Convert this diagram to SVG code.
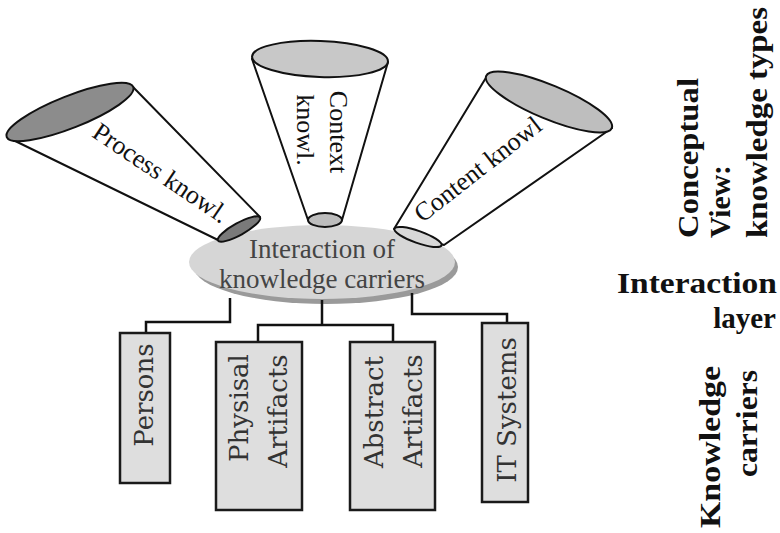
<svg xmlns="http://www.w3.org/2000/svg" width="780" height="533" viewBox="0 0 780 533">
<style>
.body{fill:#fff;stroke:#111;stroke-width:2;stroke-linejoin:round}
.cap{stroke:#111;stroke-width:2}
.ct{font-family:"Liberation Serif",serif;font-size:26px;fill:#111}
.it{font-family:"Liberation Serif",serif;font-size:27px;fill:#444;text-anchor:middle}
.box{fill:#dedede;stroke:#1a1a1a;stroke-width:2.5}
.bt{font-family:"DejaVu Serif",serif;font-size:26px;fill:#333;text-anchor:middle}
.lab{font-family:"Liberation Serif",serif;font-size:29px;font-weight:bold;fill:#111}
.conn{fill:none;stroke:#111;stroke-width:2.5}
</style>
<rect width="780" height="533" fill="#fff"/>
<g id="interaction">
<ellipse cx="326" cy="267" rx="132" ry="37" fill="#9a9a9a"/>
<ellipse cx="322" cy="262" rx="133" ry="37" fill="#d6d6d6"/>
<text class="it" x="322" y="258">Interaction of</text>
<text class="it" x="322" y="288">knowledge carriers</text>
</g>
<g id="cone-process">
<polygon class="body" points="7,137 133,87 260,217 218,240"/>
<ellipse class="cap" cx="70" cy="112" rx="68" ry="16" fill="#8c8c8c" transform="rotate(-21.6 70 112)"/>
<ellipse class="cap" cx="239" cy="229" rx="24" ry="6" fill="#7a7a7a" transform="rotate(-28.7 239 229)"/>
<text class="ct" x="156" y="180" text-anchor="middle" transform="rotate(34 156 180)">Process knowl.</text>
</g>
<g id="cone-context">
<polygon class="body" points="252,59 388,62 342,220 308,220"/>
<ellipse class="cap" cx="320" cy="59" rx="68" ry="18" fill="#c8c8c8" transform="rotate(2 320 59)"/>
<ellipse class="cap" cx="325" cy="220" rx="17" ry="7" fill="#bdbdbd"/>
<text class="ct" x="330" y="132" text-anchor="middle" transform="rotate(90 330 132)">Context</text>
<text class="ct" x="297" y="130" text-anchor="middle" transform="rotate(90 297 130)">knowl.</text>
</g>
<g id="cone-content">
<polygon class="body" points="487,76 612,128 444,245 394,229"/>
<ellipse class="cap" cx="549" cy="102" rx="68" ry="17" fill="#bebebe" transform="rotate(22.6 549 102)"/>
<ellipse class="cap" cx="418" cy="237" rx="25" ry="6" fill="#d8d8d8" transform="rotate(19.5 418 237)"/>
<text class="ct" x="483" y="176" text-anchor="middle" transform="rotate(-38 483 176)">Content knowl</text>
</g>
<g id="connectors">
<path class="conn" d="M230,298 V322 H146 V333"/>
<path class="conn" d="M322,300 V325"/>
<path class="conn" d="M258,342 V325 H393 V342"/>
<path class="conn" d="M412,293 V314 H507 V323"/>
</g>
<g id="persons">
<rect class="box" x="120" y="333" width="50" height="150"/>
<text class="bt" x="153" y="395" transform="rotate(-90 153 395)">Persons</text>
</g>
<g id="physical">
<rect class="box" x="216" y="342" width="86" height="168"/>
<text class="bt" x="248" y="408" transform="rotate(-90 248 408)">Physisal</text>
<text class="bt" x="287" y="411" transform="rotate(-90 287 411)">Artifacts</text>
</g>
<g id="abstract">
<rect class="box" x="350" y="342" width="85" height="168"/>
<text class="bt" x="383" y="412" transform="rotate(-90 383 412)">Abstract</text>
<text class="bt" x="422" y="411" transform="rotate(-90 422 411)">Artifacts</text>
</g>
<g id="it-systems">
<rect class="box" x="482" y="323" width="46" height="179"/>
<text class="bt" x="516" y="410" transform="rotate(-90 516 410)">IT Systems</text>
</g>
<g id="labels">
<text class="lab" x="698" y="238" textLength="160" lengthAdjust="spacingAndGlyphs" transform="rotate(-90 698 238)">Conceptual</text>
<text class="lab" x="730" y="238" textLength="73" lengthAdjust="spacingAndGlyphs" transform="rotate(-90 730 238)">View:</text>
<text class="lab" x="767" y="238" textLength="231" lengthAdjust="spacingAndGlyphs" transform="rotate(-90 767 238)">knowledge types</text>
<text class="lab" x="617" y="293" textLength="160" lengthAdjust="spacingAndGlyphs">Interaction</text>
<text class="lab" x="776" y="328" text-anchor="end">layer</text>
<text class="lab" x="720" y="528" textLength="162" lengthAdjust="spacingAndGlyphs" transform="rotate(-90 720 528)">Knowledge</text>
<text class="lab" x="757" y="477" textLength="107" lengthAdjust="spacingAndGlyphs" transform="rotate(-90 757 477)">carriers</text>
</g>
</svg>
